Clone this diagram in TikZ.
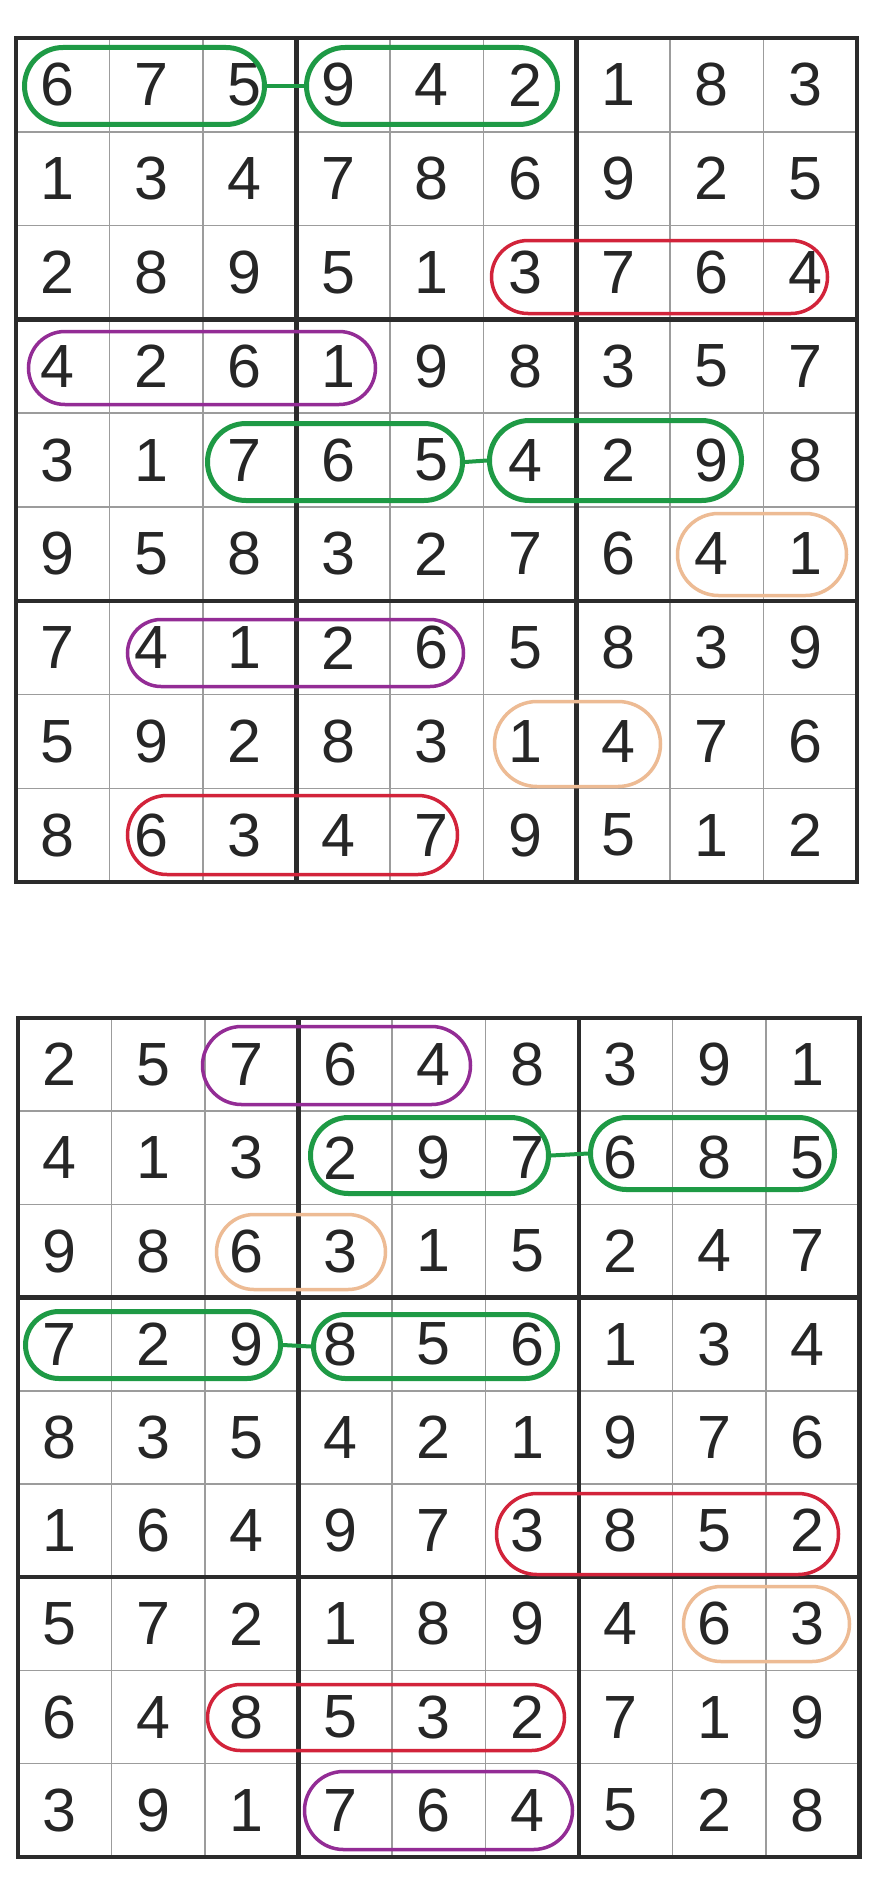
\documentclass[tikz,border=0pt]{standalone}
\usepackage{fontspec}
\setmainfont{Liberation Sans}
\usetikzlibrary{shapes.misc}
\definecolor{thickc}{HTML}{2B2B2B}
\definecolor{thinc}{HTML}{9C9C9C}
\definecolor{digitc}{HTML}{262626}
\definecolor{penG}{HTML}{1E9A45}
\definecolor{penR}{HTML}{D2233A}
\definecolor{penP}{HTML}{932C95}
\definecolor{penO}{HTML}{EDBB94}
\tikzset{
  digit/.style={font=\fontsize{61}{61}\selectfont, text=digitc, inner sep=0pt, anchor=center},
  thinline/.style={draw=thinc, line width=1.5pt},
  thickline/.style={draw=thickc, line width=4.5pt, line cap=rect},
  oval/.style={rounded rectangle, inner sep=0pt, fill=none},
  ovG/.style={oval, draw=penG, line width=5pt},
  ovR/.style={oval, draw=penR, line width=3.5pt},
  ovP/.style={oval, draw=penP, line width=3.5pt},
  ovO/.style={oval, draw=penO, line width=3.5pt},
  linkG/.style={draw=penG, line width=4pt},
}
\newcommand\gridrow[7]{%
  \foreach \d [count=\c from 0] in {#7} {
    \node[digit] (#1r#2c\c) at ({#3+(\c+0.5)*#5-5}, {#4+(#2+0.5)*#6}) {\d};
  }}
\newcommand\gridlines[4]{%
  \foreach \i in {1,2,4,5,7,8} {
    \draw[thinline] ({#1+\i*#3}, #2) -- ({#1+\i*#3}, {#2+9*#4});
    \draw[thinline] (#1, {#2+\i*#4}) -- ({#1+9*#3}, {#2+\i*#4});
  }
  \foreach \i in {0,3,6,9} {
    \draw[thickline] ({#1+\i*#3}, #2) -- ({#1+\i*#3}, {#2+9*#4});
    \draw[thickline] (#1, {#2+\i*#4}) -- ({#1+9*#3}, {#2+\i*#4});
  }}
\begin{document}
\begin{tikzpicture}[x=1pt,y=-1pt]
\useasboundingbox[fill=white] (0,0) rectangle (887,1889);

% ---------- grid 1 ----------
\gridlines{16}{38}{93.45}{93.8}
\gridrow{A}{0}{16}{38}{93.45}{93.8}{6,7,5,9,4,2,1,8,3}
\gridrow{A}{1}{16}{38}{93.45}{93.8}{1,3,4,7,8,6,9,2,5}
\gridrow{A}{2}{16}{38}{93.45}{93.8}{2,8,9,5,1,3,7,6,4}
\gridrow{A}{3}{16}{38}{93.45}{93.8}{4,2,6,1,9,8,3,5,7}
\gridrow{A}{4}{16}{38}{93.45}{93.8}{3,1,7,6,5,4,2,9,8}
\gridrow{A}{5}{16}{38}{93.45}{93.8}{9,5,8,3,2,7,6,4,1}
\gridrow{A}{6}{16}{38}{93.45}{93.8}{7,4,1,2,6,5,8,3,9}
\gridrow{A}{7}{16}{38}{93.45}{93.8}{5,9,2,8,3,1,4,7,6}
\gridrow{A}{8}{16}{38}{93.45}{93.8}{8,6,3,4,7,9,5,1,2}

% ---------- grid 2 ----------
\gridlines{18}{1018}{93.5}{93.2}
\gridrow{B}{0}{18}{1018}{93.5}{93.2}{2,5,7,6,4,8,3,9,1}
\gridrow{B}{1}{18}{1018}{93.5}{93.2}{4,1,3,2,9,7,6,8,5}
\gridrow{B}{2}{18}{1018}{93.5}{93.2}{9,8,6,3,1,5,2,4,7}
\gridrow{B}{3}{18}{1018}{93.5}{93.2}{7,2,9,8,5,6,1,3,4}
\gridrow{B}{4}{18}{1018}{93.5}{93.2}{8,3,5,4,2,1,9,7,6}
\gridrow{B}{5}{18}{1018}{93.5}{93.2}{1,6,4,9,7,3,8,5,2}
\gridrow{B}{6}{18}{1018}{93.5}{93.2}{5,7,2,1,8,9,4,6,3}
\gridrow{B}{7}{18}{1018}{93.5}{93.2}{6,4,8,5,3,2,7,1,9}
\gridrow{B}{8}{18}{1018}{93.5}{93.2}{3,9,1,7,6,4,5,2,8}

% ---------- ovals, grid 1 ----------
\node[ovG, minimum width=240, minimum height=77] (g1a) at (144.5,86) {};
\node[ovG, minimum width=251, minimum height=77] (g1b) at (432,86) {};
\node[ovR, minimum width=336, minimum height=73] (r1) at (659.5,277) {};
\node[ovP, minimum width=347, minimum height=73] (p1) at (202,368) {};
\node[ovG, minimum width=255, minimum height=77] (g2a) at (335,462) {};
\node[ovG, minimum width=252, minimum height=80] (g2b) at (615.5,460.5) {};
\node[ovO, minimum width=169, minimum height=82] (o1) at (762,554.5) {};
\node[ovP, minimum width=336, minimum height=67] (p2) at (295.5,653) {};
\node[ovO, minimum width=166, minimum height=85] (o2) at (577.5,744) {};
\node[ovR, minimum width=330, minimum height=79] (r2) at (292.5,835) {};
\draw[linkG] (g1a.east) -- (g1b.west);
\draw[linkG] (g2a.east) -- (g2b.west);

% ---------- ovals, grid 2 ----------
\node[ovP, minimum width=268, minimum height=78] (p3) at (336.5,1065.5) {};
\node[ovG, minimum width=238, minimum height=76] (g3a) at (429.5,1155.5) {};
\node[ovG, minimum width=244, minimum height=72] (g3b) at (712.5,1153.5) {};
\node[ovO, minimum width=169, minimum height=75] (o3) at (301,1252) {};
\node[ovG, minimum width=255, minimum height=67] (g4a) at (153,1345) {};
\node[ovG, minimum width=244, minimum height=64] (g4b) at (435.5,1346.5) {};
\node[ovR, minimum width=342, minimum height=81] (r3) at (667.5,1534) {};
\node[ovO, minimum width=166, minimum height=75] (o4) at (766.5,1624) {};
\node[ovR, minimum width=357, minimum height=66] (r4) at (386,1717.5) {};
\node[ovP, minimum width=268, minimum height=78] (p4) at (438.5,1810.5) {};
\draw[linkG] (g3a.east) -- (g3b.west);
\draw[linkG] (g4a.east) -- (g4b.west);
\end{tikzpicture}
\end{document}
